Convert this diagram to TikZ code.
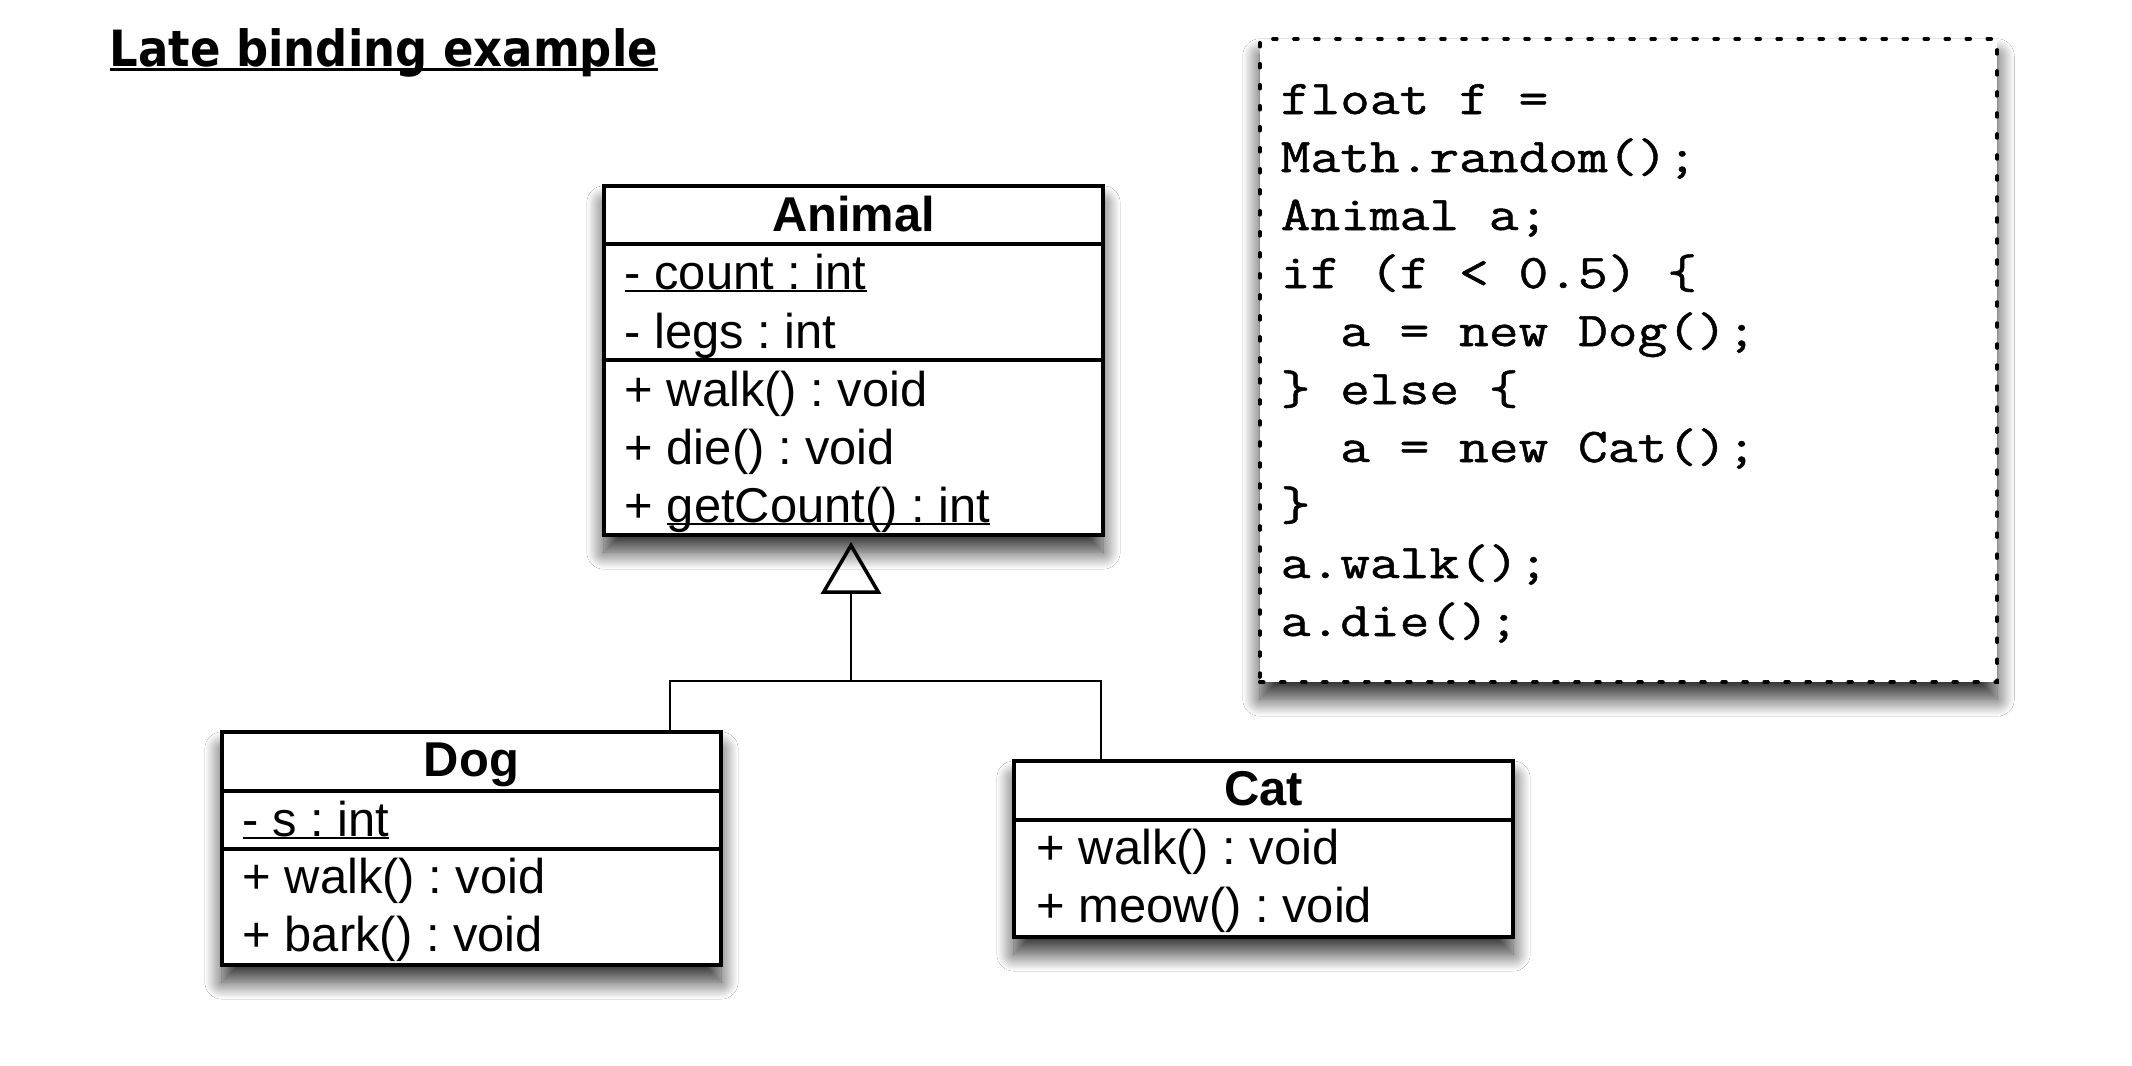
\documentclass[tikz,border=0pt]{standalone}
\usepackage{fontspec}
\setmainfont{Liberation Sans}
\newfontfamily\codefont{Latin Modern Mono}[FakeStretch=1.19, FakeBold=1]
\newfontfamily\titlefont{DejaVu Sans}[FakeStretch=0.9]
\usetikzlibrary{arrows.meta,shadows.blur,calc}
\frenchspacing
\newcommand\ulx[1]{\leavevmode\setbox0=\hbox{#1}\rlap{\rule[-0.9pt]{\wd0}{0.6pt}}\box0}
\newcommand\ultitle[1]{\leavevmode\setbox0=\hbox{#1}\rlap{\rule[-1.3pt]{\wd0}{0.85pt}}\box0}
\begin{document}
\begin{tikzpicture}[x=0.01cm,y=-0.01cm,
  shad/.style={blur shadow={shadow xshift=0cm, shadow yshift=-0.17cm, shadow blur radius=0.17cm, shadow blur steps=20, shadow opacity=80}},
  cls/.style={draw, line width=1pt, fill=white, inner sep=0pt, shad},
  codebox/.style={draw, line width=1pt, fill=white, inner sep=0pt,
    dash pattern=on 0.04cm off 0.17cm, line cap=round, shad},
  sepline/.style={line width=1pt},
  conn/.style={line width=0.8pt},
  txt/.style={inner sep=0pt, anchor=base west, font=\fontsize{13.9}{16}\selectfont},
  hdr/.style={inner sep=0pt, anchor=base, font=\fontsize{13.9}{16}\selectfont\bfseries},
  code/.style={inner sep=0pt, anchor=base west, font=\codefont\fontsize{13.8}{16}\selectfont}
]
\useasboundingbox[fill=white] (0,0) rectangle (2132,1066);

% title
\node[inner sep=0pt, anchor=base west] (title) at (109,66)
  {\titlefont\bfseries\fontsize{14.2}{17}\selectfont\ultitle{Late binding example}};

% Animal
\node[cls, minimum width=4.99cm, minimum height=3.49cm] (animal) at (853.5,360.5) {};
\draw[sepline] (animal.west |- 0,244) -- (animal.east |- 0,244);
\draw[sepline] (animal.west |- 0,360) -- (animal.east |- 0,360);
\node[hdr] (animalname) at (853.5,231) {Animal};
\node[txt] (a1) at (624,289) {\ulx{- count : int}};
\node[txt] (a2) at (624,348) {- legs : int};
\node[txt] (a3) at (624,406) {+ walk() : void};
\node[txt] (a4) at (624,464) {+ die() : void};
\node[txt] (a5) at (624,522) {+ \ulx{getCount() : int}};

% Dog
\node[cls, minimum width=4.99cm, minimum height=2.33cm] (dog) at (471.5,848.5) {};
\draw[sepline] (dog.west |- 0,791) -- (dog.east |- 0,791);
\draw[sepline] (dog.west |- 0,849) -- (dog.east |- 0,849);
\node[hdr] (dogname) at (471.5,776) {Dog};
\node[txt] (d1) at (242,836) {\ulx{- s : int}};
\node[txt] (d2) at (242,893) {+ walk() : void};
\node[txt] (d3) at (242,951) {+ bark() : void};

% Cat
\node[cls, minimum width=4.99cm, minimum height=1.76cm] (cat) at (1263.5,849) {};
\draw[sepline] (cat.west |- 0,820) -- (cat.east |- 0,820);
\node[hdr] (catname) at (1263.5,805) {Cat};
\node[txt] (c1) at (1036,864) {+ walk() : void};
\node[txt] (c2) at (1036,922) {+ meow() : void};

% code box
\node[codebox, minimum width=7.37cm, minimum height=6.43cm] (codebox) at (1628.5,360.5) {};
\node[code] (l1) at (1280,114) {float f =};
\node[code] (l2) at (1280,172) {Math.random();};
\node[code] (l3) at (1280,230) {Animal a;};
\node[code] (l4) at (1280,288) {if (f < 0.5) \{};
\node[code] (l5) at (1280,346) {\phantom{aa}a = new Dog();};
\node[code] (l6) at (1280,404) {\} else \{};
\node[code] (l7) at (1280,462) {\phantom{aa}a = new Cat();};
\node[code] (l8) at (1280,520) {\}};
\node[code] (l9) at (1280,578) {a.walk();};
\node[code] (l10) at (1280,636) {a.die();};

% generalization connectors
\coordinate (jd) at (670,681);
\coordinate (jc) at (1101,681);
\coordinate (j) at (851,681);
\draw[conn] (dog.north -| jd) -- (jd) -- (jc) -- (cat.north -| jc);
\draw[conn, -{Triangle[open, length=0.52cm, width=0.6cm, line width=1pt]}, shorten >=0.05cm] (j) -- (animal.south -| j);
\end{tikzpicture}
\end{document}
